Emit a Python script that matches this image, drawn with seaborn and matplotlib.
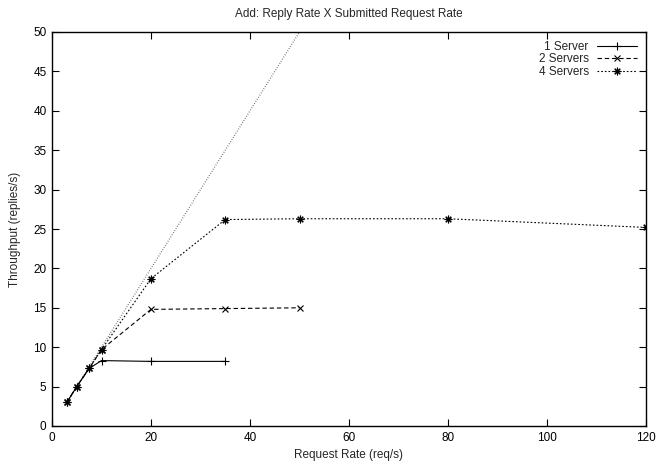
import matplotlib
matplotlib.use("Agg")
import matplotlib.pyplot as plt
import seaborn as sns
import pandas as pd

# Data
x_1 = [3, 5, 7.5, 10, 20, 35]
y_1 = [3.0, 5.0, 7.3, 8.3, 8.2, 8.2]
x_2 = [3, 5, 7.5, 10, 20, 35, 50]
y_2 = [3.0, 5.0, 7.3, 9.7, 14.8, 14.9, 15.0]
x_4 = [3, 5, 7.5, 10, 20, 35, 50, 80, 120]
y_4 = [3.0, 5.0, 7.3, 9.7, 18.7, 26.2, 26.3, 26.3, 25.2]
ideal_x = [3, 10, 20, 35, 50, 80, 120]
ideal_y = [3, 10, 20, 35, 50, 80, 120]
labels = ["1 Server", "2 Servers", "4 Servers"]

sns.set_style("ticks")
plt.rcParams["font.family"] = ["Liberation Sans", "DejaVu Sans"]
plt.rcParams["font.size"] = 8.5

fig = plt.figure(figsize=(6.62, 4.68), dpi=100)
ax = fig.add_axes([52 / 662, 1 - 426 / 468, (646 - 52) / 662, (426 - 32) / 468])

ast = (8, 2, 0)
common = dict(ax=ax, color="black", lw=0.8, markeredgecolor="black",
              markerfacecolor="black", markeredgewidth=0.8)
sns.lineplot(x=ideal_x, y=ideal_y, ax=ax, color="#555555", lw=0.9,
             linestyle=(0, (0.6, 1.4)), legend=False, label="_nolegend_")
sns.lineplot(x=x_1, y=y_1, marker="+", markersize=6, label=labels[0], **common)
sns.lineplot(x=x_2, y=y_2, marker="x", markersize=4.5,
             linestyle=(0, (4, 2.5)), label=labels[1], **common)
sns.lineplot(x=x_4, y=y_4, marker=ast, markersize=5.5,
             linestyle=(0, (1.5, 1.8)), label=labels[2], **common)

ax.set_xlim(0, 120)
ax.set_ylim(0, 50)
ax.set_xticks(range(0, 121, 20))
ax.set_yticks(range(0, 51, 5))
ax.tick_params(direction="in", length=5, width=0.8, top=True, right=True,
               labelsize=8.5, colors="black", pad=4)
for s in ax.spines.values():
    s.set_linewidth(1.0)
    s.set_color("black")

ax.set_title("Add: Reply Rate X Submitted Request Rate", fontsize=8.5, pad=11)
ax.set_xlabel("Request Rate (req/s)", fontsize=8.5, labelpad=4)
ax.set_ylabel("Throughput (replies/s)", fontsize=8.5, labelpad=9)

leg = ax.legend(loc="upper right", markerfirst=False, frameon=False,
                fontsize=8.5, handlelength=3.4, handletextpad=0.7,
                labelspacing=0.05, borderaxespad=0.35)

fig.savefig("out.png", dpi=100)
